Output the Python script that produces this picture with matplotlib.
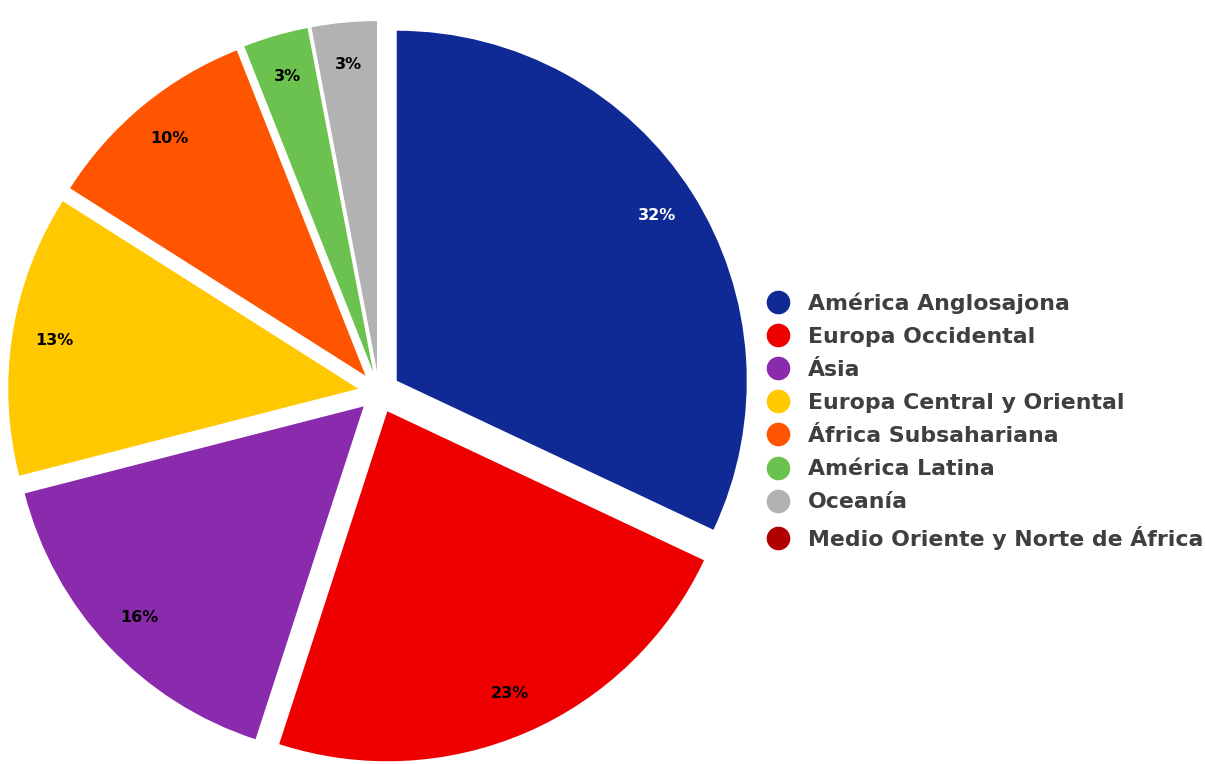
import matplotlib
matplotlib.use("Agg")
import matplotlib.pyplot as plt
from matplotlib.lines import Line2D

regions = ["América Anglosajona", "Europa Occidental", "Ásia", "Europa Central y Oriental",
           "África Subsahariana", "América Latina", "Oceanía", "Medio Oriente y Norte de África"]
shares = [32, 23, 16, 13, 10, 3, 3, 0]
colors = ["#0f2a94", "#ee0000", "#8a2aad", "#ffc800", "#ff5400", "#6cc24e", "#b2b2b2", "#b00000"]

W, H = 1205, 764
fig = plt.figure(figsize=(W / 100, H / 100), dpi=100)
ax = fig.add_axes([0, 0, 1, 1])

vals = [v for v in shares if v > 0]
cols = [c for v, c in zip(shares, colors) if v > 0]
wedges, texts, autotexts = ax.pie(
    vals, colors=cols, startangle=90, counterclock=False,
    center=(379, H - 392), radius=350, explode=[21] * len(vals),
    autopct="%1.0f%%", pctdistance=0.88,
    textprops=dict(fontsize=11.5, fontweight="bold", color="black", family="DejaVu Sans"),
    wedgeprops=dict(linewidth=0), frame=True)
autotexts[0].set_color("white")
ax.set_xlim(0, W)
ax.set_ylim(0, H)
ax.set_aspect("equal")
ax.axis("off")

handles = [Line2D([], [], marker="o", linestyle="none", markersize=16,
                  markerfacecolor=c, markeredgecolor=c) for c in colors]
leg = ax.legend(handles, regions, loc="upper left",
                bbox_to_anchor=(767 / W, 1 - 292 / H), bbox_transform=fig.transFigure,
                frameon=False, labelspacing=0.6, handlelength=1.0,
                handletextpad=0.85, borderpad=0, borderaxespad=0,
                prop=dict(family="DejaVu Sans", weight="bold", size=15.8))
for t in leg.get_texts():
    t.set_color("#3f3f3f")

fig.savefig("out.png", dpi=100, facecolor="white")
